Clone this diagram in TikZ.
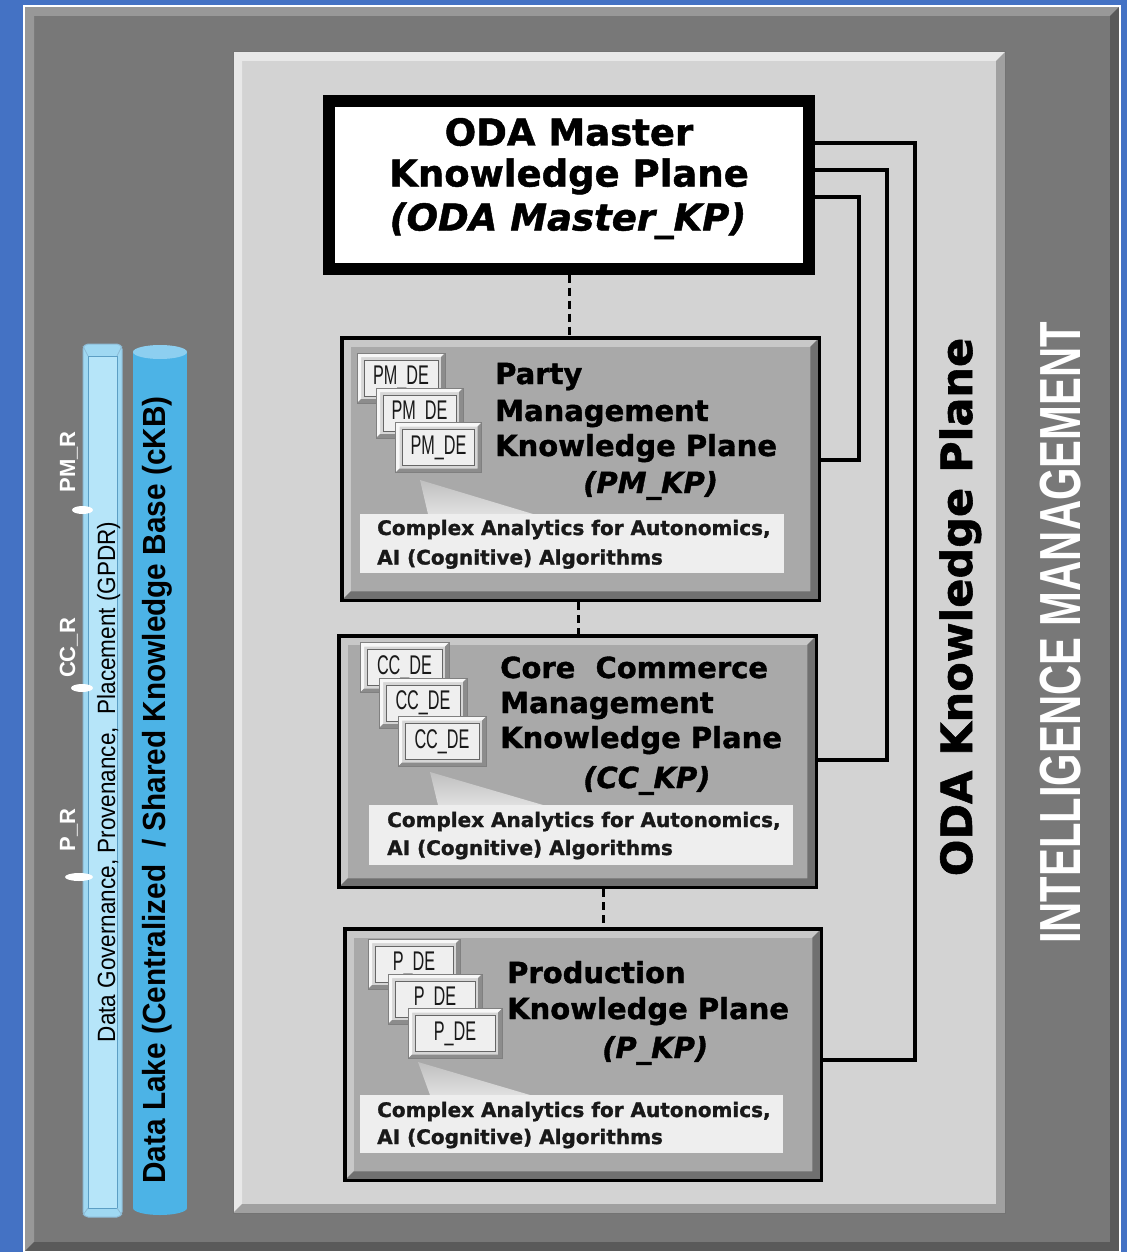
\documentclass[tikz,border=0pt]{standalone}
\usepackage{fontspec}
\usepackage{graphicx}
\usetikzlibrary{calc}
\newfontfamily\dvs{DejaVu Sans}[BoldFeatures={FakeBold=1.3},BoldItalicFeatures={FakeBold=1.3}]
\newfontfamily\lib{Liberation Sans}
\definecolor{bgblue}{HTML}{4472C4}
\definecolor{outerc}{HTML}{787878}
\definecolor{outerlight}{HTML}{989898}
\definecolor{outerdark}{HTML}{5A5A5A}
\definecolor{innerc}{HTML}{D3D3D3}
\definecolor{innerlight}{HTML}{E8E8E8}
\definecolor{innerdark}{HTML}{A0A0A0}
\definecolor{kpc}{HTML}{A9A9A9}
\definecolor{kplight}{HTML}{C8C8C8}
\definecolor{kpdark}{HTML}{707070}
\definecolor{callc}{HTML}{EEEEEE}
\definecolor{cardbody}{HTML}{D6D6D6}
\definecolor{cardlight}{HTML}{F7F7F7}
\definecolor{carddark}{HTML}{8C8C8C}
\definecolor{cardface}{HTML}{EFEFEF}
\definecolor{gbarout}{HTML}{9FD8F2}
\definecolor{gbarin}{HTML}{B6E5F9}
\definecolor{gbaredge}{HTML}{5C9EC4}
\definecolor{lakeblue}{HTML}{4CB3E6}
\definecolor{laketop}{HTML}{8DCFF0}
\newcommand\bevelcode[3]{%
  \coordinate (bvA) at (path picture bounding box.north west);
  \coordinate (bvB) at (path picture bounding box.north east);
  \coordinate (bvC) at (path picture bounding box.south east);
  \coordinate (bvD) at (path picture bounding box.south west);
  \fill[#2] (bvD) -- (bvA) -- (bvB) -- ([shift={(-#1,-#1)}]bvB) -- ([shift={(#1,-#1)}]bvA) -- ([shift={(#1,#1)}]bvD) -- cycle;
  \fill[#3] (bvB) -- (bvC) -- (bvD) -- ([shift={(#1,#1)}]bvD) -- ([shift={(-#1,#1)}]bvC) -- ([shift={(-#1,-#1)}]bvB) -- cycle;
}
\newcommand\cardfont{\lib\fontsize{27}{27}\selectfont}
\newcommand\dete[1]{\scalebox{0.6}[1]{#1}}
\tikzset{
  outerpanel/.style={rectangle, inner sep=0, fill=outerc, draw=white, line width=1.5,
    path picture={\bevelcode{10pt}{outerlight}{outerdark}}},
  innerpanel/.style={rectangle, inner sep=0, fill=innerc, draw=black!55, line width=1,
    path picture={\bevelcode{9pt}{innerlight}{innerdark}}},
  masterbox/.style={rectangle, inner sep=0, fill=white, draw=black, line width=12},
  kpbox/.style={rectangle, inner sep=0, fill=kpc, draw=black, line width=3.5,
    path picture={\bevelcode{9pt}{kplight}{kpdark}}},
  callout/.style={rectangle, inner sep=0, fill=callc},
  card/.style={rectangle, minimum width=#1, minimum height=50, inner sep=0, fill=cardbody,
    draw=black!50, line width=0.8, text=black!90, font=\cardfont,
    path picture={\bevelcode{4pt}{cardlight}{carddark}%
      \filldraw[fill=cardface, draw=black!60, line width=0.8]
        ([shift={(7pt,-7pt)}]path picture bounding box.north west) rectangle
        ([shift={(-7pt,7pt)}]path picture bounding box.south east);}},
  mst/.style={font=\dvs\bfseries\fontsize{37}{37}\selectfont, anchor=base, inner sep=0},
  mstit/.style={font=\dvs\bfseries\itshape\fontsize{37}{37}\selectfont, anchor=base, inner sep=0},
  ttl/.style={font=\dvs\bfseries\fontsize{29}{29}\selectfont, anchor=base west, inner sep=0},
  ttlit/.style={font=\dvs\bfseries\itshape\fontsize{29}{29}\selectfont, anchor=base west, inner sep=0},
  cal/.style={font=\dvs\bfseries\fontsize{20}{20}\selectfont, anchor=base west, inner sep=0, text=black!90},
  wedge/.style={top color=black!25, bottom color=black!12},
  bus/.style={line width=3.5, black},
  dashline/.style={line width=3, black, dash pattern=on 8pt off 5pt},
  vodak/.style={font=\dvs\bfseries\fontsize{43}{43}\selectfont, rotate=90, anchor=base, inner sep=0},
  vint/.style={font=\lib\bfseries\fontsize{58}{58}\selectfont, text=white, rotate=90, anchor=base, inner sep=0},
  vlake/.style={font=\lib\bfseries\fontsize{32}{32}\selectfont, text=black, rotate=90, anchor=base, inner sep=0},
  vgp/.style={font=\lib\fontsize{25}{25}\selectfont, text=black, rotate=90, anchor=base, inner sep=0},
  vr/.style={font=\lib\bfseries\fontsize{22}{22}\selectfont, text=white, rotate=90, anchor=base, inner sep=0},
}
\begin{document}
\begin{tikzpicture}[x=1pt,y=-1pt]
\useasboundingbox (0,0) rectangle (1127,1252);
\clip (0,0) rectangle (1127,1252);
\fill[bgblue] (0,0) rectangle (1127,1252);

% panels
\node[outerpanel, minimum width=1096, minimum height=1246] (outer) at (572,629) {};
\node[innerpanel, minimum width=772, minimum height=1161] (inner) at (619,632.5) {};

% left cylinders
\filldraw[fill=gbarout, draw=gbaredge!70, line width=1, rounded corners=5] (83,344) rectangle (122,1217);
\filldraw[fill=gbarin, draw=gbaredge, line width=1] (88,356) rectangle (117,1208);
\draw[gbaredge!70, line width=0.8] (83,346) -- (88,356) (122,346) -- (117,356) (83,1215) -- (88,1208) (122,1215) -- (117,1208);
\fill[lakeblue] (133,352) rectangle (187,1208);
\fill[lakeblue] (160,1208) ellipse (27 and 7);
\fill[laketop] (160,352) ellipse (27 and 7);
\fill[white] (82.5,510) ellipse (10.5 and 4);
\fill[white] (82,688) ellipse (11 and 4);
\fill[white] (79,877) ellipse (14 and 4);

\node[vgp] (gp) at (115,782) {\scalebox{0.9}[1]{Data Governance, Provenance,\ \ Placement (GPDR)}};
\node[vlake] (dl) at (165,790) {\scalebox{0.93}[1]{Data Lake (Centralized\ \ / Shared Knowledge Base (cKB)}};
\node[vr] (pmr) at (75,462) {PM\_R};
\node[vr] (ccr) at (75,648) {CC\_R};
\node[vr] (pr) at (75,830) {P\_R};

% knowledge plane boxes
\node[masterbox, minimum width=480, minimum height=167.5] (master) at (569,184.75) {};
\node[kpbox, minimum width=477.5, minimum height=262.5] (pm) at (580.5,469) {};
\node[kpbox, minimum width=477.5, minimum height=251.5] (cc) at (577.5,761.5) {};
\node[kpbox, minimum width=476.5, minimum height=251.5] (p) at (583,1054.5) {};

% dashed links
\draw[dashline] (master.south) -- (master.south |- pm.north);
\draw[dashline] (pm.south -| 578,0) -- (cc.north -| 578,0);
\draw[dashline] (cc.south -| 603,0) -- (p.north -| 603,0);

% bus lines
\coordinate (b1) at (915,600);
\coordinate (b2) at (887,600);
\coordinate (b3) at (859,300);
\draw[bus] (master.east |- 0,143) -| (b1) |- (p.east |- 0,1060);
\draw[bus] (master.east |- 0,170) -| (b2) |- (cc.east |- 0,760);
\draw[bus] (master.east |- 0,197) -| (b3) |- (pm.east |- 0,460);

% master text
\node[mst] (m1) at (569,145.5) {ODA Master};
\node[mst] (m2) at (569,186.5) {Knowledge Plane};
\node[mstit] (m3) at (568,230.5) {(ODA Master\_KP)};

% PM contents
\shade[wedge] (420,480) -- (428,514) -- (533,514) -- cycle;
\node[callout, minimum width=424, minimum height=59] (pmcal) at (572,543.5) {};
\node[card=88] (pmc1) at (401,378) {\dete{PM\_DE}};
\node[card=87] (pmc2) at (419.5,413) {\dete{PM\_DE}};
\node[card=86] (pmc3) at (438.5,447.5) {\dete{PM\_DE}};
\node[ttl] (pmt1) at (495,384) {Party};
\node[ttl] (pmt2) at (495,421) {Management};
\node[ttl] (pmt3) at (495,456) {Knowledge Plane};
\node[ttlit] (pmt4) at (583,493) {(PM\_KP)};
\node[cal] (pma1) at (377,535) {Complex Analytics for Autonomics,};
\node[cal] (pma2) at (377,564.5) {AI (Cognitive) Algorithms};

% CC contents
\shade[wedge] (430,772) -- (438,805) -- (543,805) -- cycle;
\node[callout, minimum width=424, minimum height=60] (cccal) at (581,835) {};
\node[card=89] (ccc1) at (404.5,667.5) {\dete{CC\_DE}};
\node[card=88] (ccc2) at (423,703) {\dete{CC\_DE}};
\node[card=88] (ccc3) at (442,741.5) {\dete{CC\_DE}};
\node[ttl] (cct1) at (500,678) {Core\ \ Commerce};
\node[ttl] (cct2) at (500,713) {Management};
\node[ttl] (cct3) at (500,748) {Knowledge Plane};
\node[ttlit] (cct4) at (583,788) {(CC\_KP)};
\node[cal] (cca1) at (387,827) {Complex Analytics for Autonomics,};
\node[cal] (cca2) at (387,855) {AI (Cognitive) Algorithms};

% P contents
\shade[wedge] (418,1062) -- (430,1095) -- (530,1095) -- cycle;
\node[callout, minimum width=423, minimum height=58] (pcal) at (571.5,1124) {};
\node[card=92] (pc1) at (414,964) {\dete{P\_DE}};
\node[card=94] (pc2) at (435,999) {\dete{P\_DE}};
\node[card=94] (pc3) at (455,1033.5) {\dete{P\_DE}};
\node[ttl] (pt1) at (507,983) {Production};
\node[ttl] (pt2) at (507,1019) {Knowledge Plane};
\node[ttlit] (pt4) at (602,1058) {(P\_KP)};
\node[cal] (pa1) at (377,1117) {Complex Analytics for Autonomics,};
\node[cal] (pa2) at (377,1144) {AI (Cognitive) Algorithms};

% vertical labels
\node[vodak] (odakp) at (972,607) {ODA Knowledge Plane};
\node[vint] (intm) at (1080,633) {\scalebox{0.72}[1]{INTELLIGENCE MANAGEMENT}};
\end{tikzpicture}
\end{document}
